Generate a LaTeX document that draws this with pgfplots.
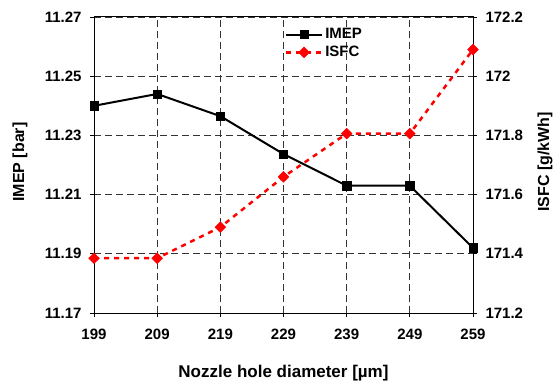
\documentclass[border=0pt]{standalone}
\usepackage{fontspec}
\setmainfont{Liberation Sans}
\usepackage{pgfplots}
\pgfplotsset{compat=1.18}
\usetikzlibrary{calc}
\newcommand{\ff}{\fontsize{15}{17}\selectfont\bfseries}
\newcommand{\fl}{\fontsize{16}{18}\selectfont\bfseries}
\newcommand{\fx}{\fontsize{17}{20}\selectfont\bfseries}
\begin{document}
\begin{tikzpicture}[font=\ff]
\pgfplotsset{base/.style={
  scale only axis, width=379pt, height=296pt,
  xmin=199, xmax=259, xtick={199,209,219,229,239,249,259},
  tick align=outside, major tick length=4pt,
  /pgf/number format/assume math mode=true,
  tick label style={font=\ff},
  tick style={black, line width=0.8pt},
  axis line style={black, line width=1pt},
  scaled ticks=false, clip=false,
}}
\begin{axis}[base,
  ymin=11.17, ymax=11.27,
  ytick={11.17,11.19,11.21,11.23,11.25,11.27},
  yticklabel style={xshift=-5pt, /pgf/number format/.cd, fixed, precision=2, fixed zerofill},
  xtick pos=bottom, ytick pos=left,
  grid=major,
  major grid style={dash pattern=on 7pt off 4pt, black!80, line width=0.9pt},
  xlabel={Nozzle hole diameter [µm]},
  ylabel={IMEP [bar]},
  xlabel style={font=\fx, at={(axis description cs:0.5,0)}, anchor=center, yshift=-60pt},
  ylabel style={font=\fl, at={(axis description cs:-0.195,0.51)}, anchor=center},
  xticklabel style={yshift=-8pt},
  legend style={at={(axis description cs:0.495,0.975)}, anchor=north west, draw=none, fill=none, font=\ff, row sep=2pt},
  legend cell align=left,
  legend image code/.code={\draw[mark repeat=2, mark phase=2] plot coordinates {(0pt,0pt) (18pt,0pt) (36pt,0pt)};},
]
\coordinate (bl) at (rel axis cs:0,0);
\coordinate (tr) at (rel axis cs:1,1);
\addplot[black, line width=2pt, mark=square*, mark size=4.2pt, mark options={solid, line width=0.5pt}]
coordinates {(199,11.240) (209,11.244) (219,11.2365) (229,11.2237) (239,11.213) (249,11.213) (259,11.192)};
\addlegendentry{IMEP}
\addlegendimage{red, line width=2.5pt, dash pattern=on 5pt off 5pt, dash phase=0pt, mark=square*, mark size=3.8pt, mark options={solid, rotate=45, line width=0.5pt}}
\addlegendentry{ISFC}
\end{axis}
\begin{axis}[base,
  axis x line=none, axis y line*=right,
  ymin=171.2, ymax=172.2,
  ytick={171.2,171.4,171.6,171.8,172,172.2},
  yticklabel style={xshift=5pt, /pgf/number format/.cd, fixed, precision=1},
  ylabel={ISFC [g/kWh]},
  ylabel style={font=\fl, at={(axis description cs:1.19,0.51)}, anchor=center},
]
\addplot[red, line width=2.5pt, dash pattern=on 5pt off 5pt, mark=square*, mark size=3.8pt, mark options={solid, rotate=45, line width=0.5pt}]
coordinates {(199,171.385) (209,171.385) (219,171.49) (229,171.66) (239,171.806) (249,171.806) (259,172.09)};
\end{axis}
\pgfresetboundingbox
\useasboundingbox ($(bl)+(-94pt,-72pt)$) rectangle ($(tr)+(84pt,17pt)$);
\end{tikzpicture}
\end{document}
